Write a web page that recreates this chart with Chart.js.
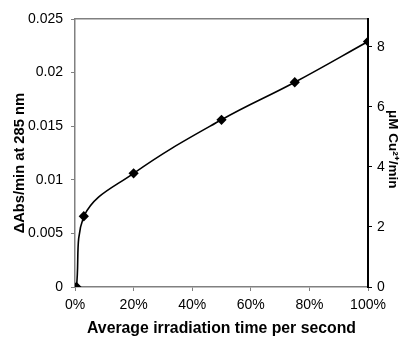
<!DOCTYPE html>
<html>
<head>
<meta charset="utf-8">
<script src="https://cdn.jsdelivr.net/npm/chart.js@4/dist/chart.umd.min.js"></script>
<style>
  html, body { margin: 0; padding: 0; background: #fff; }
</style>
</head>
<body>
<canvas id="chart" width="401" height="338"></canvas>
<script>
( function() {

  // irradiation time (% of each second) and measured rate
  var times = [ 0.5, 3, 20, 50, 75, 100 ];
  var rates = [ 0, 0.0066, 0.0106, 0.0156, 0.0191, 0.0229 ];

  var xTicks = [ 0, 20, 40, 60, 80, 100 ];
  var leftTicks = [ 0, 0.005, 0.01, 0.015, 0.02, 0.025 ];
  var rightTicks = [ 0, 2, 4, 6, 8 ];
  var rightMax = 8.93;

  var font = 'Liberation Sans, Arial, sans-serif';

  var fixSize = function( size ) {
    return function( scale ) {
      if ( scale.isHorizontal() ) scale.height = size;
      else scale.width = size;
    };
  };

  var points = times.map( function( t, i ) {
    return { x: t, y: rates[ i ] };
  } );

  new Chart( document.getElementById( 'chart' ), {
    type: 'line',
    data: {
      datasets: [ {
        data: points,
        borderColor: '#000',
        backgroundColor: '#000',
        borderWidth: 1.6,
        tension: 0.4,
        pointStyle: 'rectRot',
        pointRadius: 4,
        pointHoverRadius: 4,
        xAxisID: 'x',
        yAxisID: 'y'
      } ]
    },
    options: {
      responsive: false,
      animation: false,
      layout: { padding: { top: 19, left: 0, right: 0, bottom: 0 } },
      plugins: { legend: { display: false }, tooltip: { enabled: false } },
      scales: {
        x: {
          type: 'linear',
          position: 'bottom',
          min: 0,
          max: 100,
          afterFit: fixSize( 51 ),
          afterBuildTicks: function( s ) {
            s.ticks = xTicks.map( function( v ) { return { value: v }; } );
          },
          ticks: {
            color: '#000',
            font: { family: font, size: 14 },
            padding: 6,
            maxRotation: 0,
            callback: function( v ) { return v + '%'; }
          },
          grid: { drawOnChartArea: false, tickLength: 4, color: '#808080' },
          border: { color: '#808080', width: 1.5 },
          title: {
            display: true,
            text: 'Average irradiation time per second',
            color: '#000',
            font: { family: font, size: 15.8, weight: 'bold' },
            padding: { top: 0, bottom: 0 }
          }
        },
        xTop: {
          type: 'linear',
          position: 'top',
          min: 0,
          max: 100,
          afterFit: fixSize( 0 ),
          ticks: { display: false },
          grid: { display: false },
          border: { color: '#808080', width: 1.5 }
        },
        y: {
          type: 'linear',
          position: 'left',
          min: 0,
          max: 0.025,
          afterFit: fixSize( 75 ),
          afterBuildTicks: function( s ) {
            s.ticks = leftTicks.map( function( v ) { return { value: v }; } );
          },
          ticks: {
            color: '#000',
            font: { family: font, size: 14 },
            padding: 8,
            callback: function( v ) { return String( +v.toFixed( 3 ) ); }
          },
          grid: { drawOnChartArea: false, tickLength: 4, color: '#808080' },
          border: { color: '#808080', width: 1.5 },
          title: {
            display: true,
            text: 'ΔAbs/min at 285 nm     ',
            color: '#000',
            font: { family: font, size: 14.7, weight: 'bold' },
            padding: { top: 11, bottom: 0 }
          }
        },
        y2: {
          type: 'linear',
          position: 'right',
          display: true,
          min: 0,
          max: rightMax,
          afterFit: fixSize( 33 ),
          afterBuildTicks: function( s ) {
            s.ticks = rightTicks.map( function( v ) { return { value: v }; } );
          },
          ticks: {
            color: '#000',
            font: { family: font, size: 14 },
            padding: 5
          },
          grid: { drawOnChartArea: false, tickLength: 4, color: '#000' },
          border: { color: '#000', width: 2 },
          title: {
            display: true,
            text: 'μM Cu²⁺/min  ',
            color: '#000',
            font: { family: font, size: 13.5, weight: 'bold' },
            padding: { top: 0, bottom: 1 }
          }
        }
      }
    }
  } );

} )();
</script>
</body>
</html>
